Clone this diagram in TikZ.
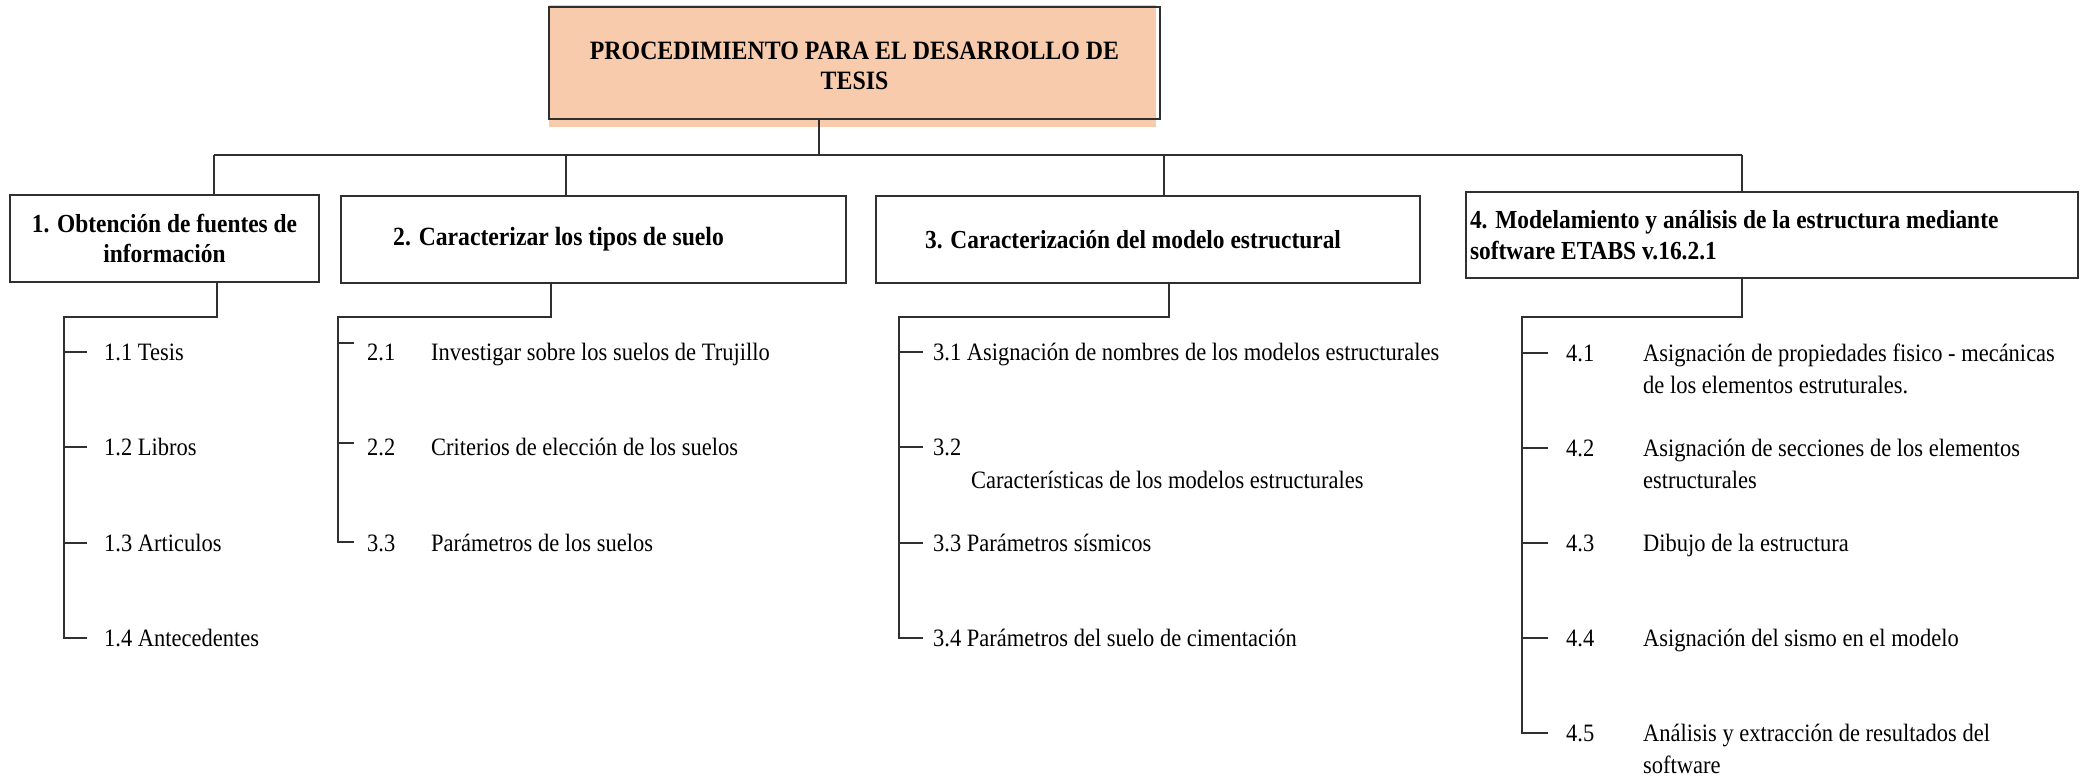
\documentclass[tikz,border=0pt]{standalone}
\usepackage{fontspec}
\setmainfont{Liberation Serif}[FakeStretch=0.9]
\usetikzlibrary{calc}
\definecolor{titlefill}{HTML}{F8CBAD}
\definecolor{ink}{HTML}{303030}
\newcommand{\bodyfont}{\fontsize{25}{32}\selectfont}
\newcommand{\boxfont}{\fontsize{26.3}{30}\selectfont\bfseries}
\newcommand{\boxfontc}{\fontsize{26}{30}\selectfont\bfseries}
\newcommand{\boxfontb}{\fontsize{26}{31}\selectfont\bfseries}
\newcommand{\titlefont}{\fontsize{26.5}{30}\selectfont\bfseries}
\newcommand{\padr}[1]{\rule{#1}{0pt}}
\begin{document}
\begin{tikzpicture}[x=1pt,y=-1pt,
  line/.style={draw=ink, line width=2pt},
  box/.style={draw=ink, line width=2pt, inner sep=4pt, font=\boxfont, align=center, minimum height=87pt},
  lbl/.style={anchor=west, inner sep=0pt, text height=17pt, text depth=0pt, font=\bodyfont}]
\useasboundingbox (0,0) rectangle (2087,776);

% title
\fill[titlefill] (549,5) rectangle (1156,127);
\node[box, font=\titlefont, minimum width=611pt, minimum height=112pt] (title) at (854.5,63) {\rule{0pt}{24pt}PROCEDIMIENTO PARA EL DESARROLLO DE\\TESIS};

% level 1 boxes
\node[box, font=\boxfontc, minimum width=309pt] (b1) at (164.5,238.5) {1. Obtención de fuentes de\\información};
\node[box, minimum width=505pt] (b2) at (593.5,239) {2. Caracterizar los tipos de suelo\padr{70pt}};
\node[box, font=\boxfontc, minimum width=544pt] (b3) at (1148,239.5) {3. Caracterización del modelo estructural\padr{30pt}};
\node[box, font=\boxfontb, align=flush left, inner xsep=4pt, text width=604pt, minimum height=86pt] (b4) at (1772,235) {4. Modelamiento y análisis de la estructura mediante\\software ETABS v.16.2.1};

% bus
\coordinate (busL) at (214,155);
\coordinate (busR) at (1742,155);
\coordinate (busT) at (819,155);
\coordinate (d2) at (566,155);
\coordinate (d3) at (1164,155);
\draw[line] (busL) -- (busR);
\draw[line] (title.south -| busT) -- (busT);
\draw[line] (busL) -- (busL |- b1.north);
\draw[line] (d2) -- (d2 |- b2.north);
\draw[line] (d3) -- (d3 |- b3.north);
\draw[line] (busR) -- (busR |- b4.north);

% group 1
\node[lbl] (l11) at (104,352) {1.1 Tesis};
\node[lbl] (l12) at (104,447) {1.2 Libros};
\node[lbl] (l13) at (104,543) {1.3 Articulos};
\node[lbl] (l14) at (104,638) {1.4 Antecedentes};
\coordinate (s1) at (217,317);
\coordinate (v1) at (64,317);
\draw[line] (s1 |- b1.south) -- (s1) -- (v1) -- (v1 |- l14.west) -- ++(23,0);
\foreach \n in {l11,l12,l13} \draw[line] (v1 |- \n.west) -- ++(23,0);

% group 2
\node[lbl] (l21) at (367,352) {\makebox[64pt][l]{2.1}Investigar sobre los suelos de Trujillo};
\node[lbl] (l22) at (367,447) {\makebox[64pt][l]{2.2}Criterios de elección de los suelos};
\node[lbl] (l23) at (367,543) {\makebox[64pt][l]{3.3}Parámetros de los suelos};
\coordinate (s2) at (551,317);
\coordinate (v2) at (338,317);
\draw[line] (s2 |- b2.south) -- (s2) -- (v2) -- ($(v2 |- l23.west)+(0,-1)$) -- ++(16,0);
\draw[line] ($(v2 |- l21.west)+(0,-9)$) -- ++(16,0);
\draw[line] ($(v2 |- l22.west)+(0,-4)$) -- ++(16,0);

% group 3
\node[lbl] (l31) at (933,352) {3.1 Asignación de nombres de los modelos estructurales};
\node[lbl] (l32) at (933,447) {\begin{tabular}[t]{@{}l@{}}3.2\\[1pt]\hspace{38pt}Características de los modelos estructurales\end{tabular}};
\node[lbl] (l33) at (933,543) {3.3 Parámetros sísmicos};
\node[lbl] (l34) at (933,638) {3.4 Parámetros del suelo de cimentación};
\coordinate (s3) at (1169,317);
\coordinate (v3) at (899,317);
\draw[line] (s3 |- b3.south) -- (s3) -- (v3) -- (v3 |- l34.west) -- ++(24,0);
\foreach \n in {l31,l32,l33} \draw[line] (v3 |- \n.west) -- ++(24,0);

% group 4
\node[lbl] (l41) at (1566,353) {\begin{tabular}[t]{@{}p{77pt}@{}l@{}}4.1 & Asignación de propiedades fisico - mecánicas\\ & de los elementos estruturales.\end{tabular}};
\node[lbl] (l42) at (1566,448) {\begin{tabular}[t]{@{}p{77pt}@{}l@{}}4.2 & Asignación de secciones de los elementos\\ & estructurales\end{tabular}};
\node[lbl] (l43) at (1566,543) {\makebox[77pt][l]{4.3}Dibujo de la estructura};
\node[lbl] (l44) at (1566,638) {\makebox[77pt][l]{4.4}Asignación del sismo en el modelo};
\node[lbl] (l45) at (1566,733) {\begin{tabular}[t]{@{}p{77pt}@{}l@{}}4.5 & Análisis y extracción de resultados del\\ & software\end{tabular}};
\coordinate (s4) at (1742,317);
\coordinate (v4) at (1522,317);
\draw[line] (s4 |- b4.south) -- (s4) -- (v4) -- (v4 |- l45.west) -- ++(26,0);
\foreach \n in {l41,l42,l43,l44} \draw[line] (v4 |- \n.west) -- ++(26,0);
\end{tikzpicture}
\end{document}
